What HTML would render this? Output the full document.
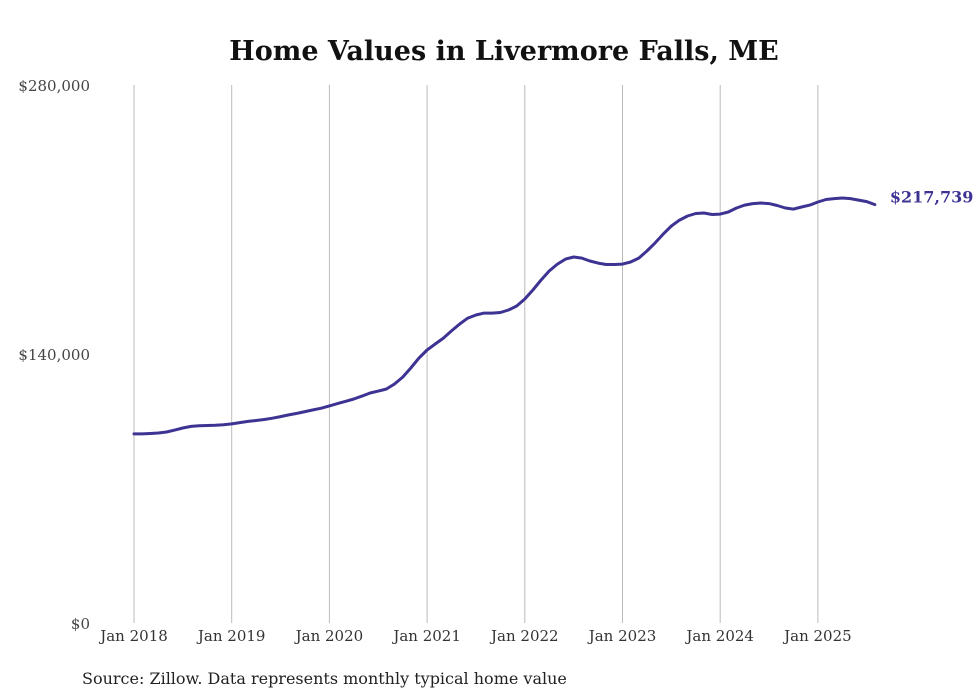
<!DOCTYPE html>
<html><head><meta charset="utf-8"><style>
body{margin:0;background:#fff;}
svg{display:block;font-family:"DejaVu Serif","Liberation Serif",serif;}
</style></head><body>
<svg width="980" height="699" id="chart">
<text x="504" y="60" text-anchor="middle" font-size="27" font-weight="bold" fill="#111">Home Values in Livermore Falls, ME</text>
<text x="82" y="684" font-size="16" fill="#222">Source: Zillow. Data represents monthly typical home value</text>
<g id="grid"></g><g id="yax"></g><g id="xax"></g><g id="series"></g>
</svg>
<script>
const yTicks=[0,140000,280000];
const yTickLabels=["$0","$140,000","$280,000"];
const xTickYears=[2018,2019,2020,2021,2022,2023,2024,2025];
const xTickLabels=["Jan 2018","Jan 2019","Jan 2020","Jan 2021","Jan 2022","Jan 2023","Jan 2024","Jan 2025"];
const startYear=2018;
const values=[
98400,98400,98600,98900,99400,100400,101500,102300,102700,102800,102900,103200,
103600,104300,104900,105400,105900,106600,107400,108300,109100,110000,110900,111800,
113000,114200,115400,116600,118100,119700,120700,121800,124400,128000,132700,137900,
142100,145200,148300,152000,155600,158700,160300,161300,161300,161600,162900,165000,
168600,173300,178500,183200,186800,189400,190500,189900,188400,187300,186600,186600,
186800,187900,189900,193600,197800,202400,206600,209700,211800,213100,213400,212600,
212800,213900,216000,217500,218300,218600,218300,217300,216000,215400,216500,217500,
219100,220400,220900,221200,220900,220100,219300,217739];
const lastLabel="$217,739";
const NS="http://www.w3.org/2000/svg";
const x0=134,yearW=97.7,yBase=623,yTop=85;
function xs(m){return x0+m*yearW/12;}
function ys(v){return yBase-(v/280000)*(yBase-yTop);}
function mk(tag,attrs,parent,txt){const e=document.createElementNS(NS,tag);for(const k in attrs)e.setAttribute(k,attrs[k]);if(txt!==undefined)e.textContent=txt;parent.appendChild(e);return e;}
const grid=document.getElementById('grid'),yax=document.getElementById('yax'),xax=document.getElementById('xax'),ser=document.getElementById('series');
xTickYears.forEach((yr,i)=>{
  const x=xs((yr-startYear)*12);
  const l=mk('line',{x1:x,x2:x,y1:yTop,y2:yBase,stroke:'#bbb','stroke-width':1},grid);
  
  
  const t=mk('text',{x:x,y:641,'text-anchor':'middle','font-size':15,fill:'#333'},xax,xTickLabels[i]);
  
  
});
yTicks.forEach((v,i)=>{
  const t=mk('text',{x:90,y:ys(v)+6,'text-anchor':'end','font-size':15,fill:'#444'},yax,yTickLabels[i]);
  
  
});
const d=values.map((v,i)=>(i?'L':'M')+xs(i).toFixed(1)+','+ys(v).toFixed(1)).join(' ');
const p=mk('path',{d:d,fill:'none',stroke:'#3d3393','stroke-width':3,'stroke-linejoin':'round','stroke-linecap':'round'},ser);


const li=values.length-1;
const lt=mk('text',{x:xs(li)+15,y:ys(values[li])-2,'font-size':16,'font-weight':'bold',fill:'#3d3393'},ser,lastLabel);


</script>
</body></html>
